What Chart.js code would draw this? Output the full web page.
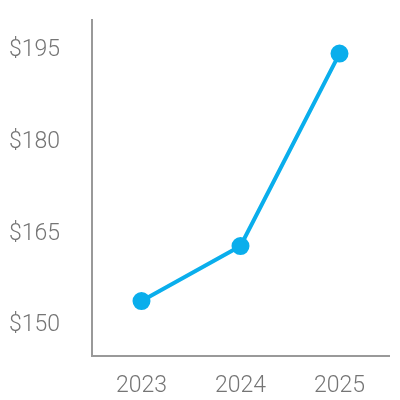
<!DOCTYPE html>
<html>
<head>
<meta charset="utf-8">
<script src="https://cdn.jsdelivr.net/npm/chart.js@4"></script>
<style>
  html, body { margin: 0; padding: 0; background: #fff; }
  #wrap { width: 400px; height: 400px; }
</style>
</head>
<body>
<div id="wrap"><canvas id="chart"></canvas></div>
<script>
const years = ["2023", "2024", "2025"];
const prices = [154, 163, 194.5];
const yTicks = [150, 165, 180, 195];

new Chart("chart", {
  type: "line",
  data: {
    labels: years,
    datasets: [{
      data: prices,
      borderColor: "#0aaeec",
      backgroundColor: "#0aaeec",
      borderWidth: 4,
      pointRadius: 7,
      pointHoverRadius: 7,
      tension: 0,
      fill: false
    }]
  },
  options: {
    responsive: true,
    maintainAspectRatio: false,
    animation: false,
    layout: { padding: { top: 20, right: 10, left: 0, bottom: 0 } },
    plugins: {
      legend: { display: false },
      tooltip: { enabled: false }
    },
    scales: {
      x: {
        offset: true,
        grid: { display: false, drawTicks: false },
        border: { display: true, color: "#999", width: 2 },
        ticks: {
          color: "#757575",
          padding: 16,
          font: { family: "Roboto", size: 23, weight: 300 }
        },
        afterFit: (s) => { s.height = 44; }
      },
      y: {
        min: 145,
        max: 200,
        grid: { display: false, drawTicks: false },
        border: { display: true, color: "#999", width: 2 },
        afterBuildTicks: (s) => { s.ticks = yTicks.map(v => ({ value: v })); },
        ticks: {
          color: "#757575",
          padding: 32,
          font: { family: "Roboto", size: 23, weight: 300 },
          callback: (v) => "$" + v
        },
        afterFit: (s) => { s.width = 92; s.paddingTop = 0; s.paddingBottom = 0; }
      }
    }
  }
});
</script>
</body>
</html>
